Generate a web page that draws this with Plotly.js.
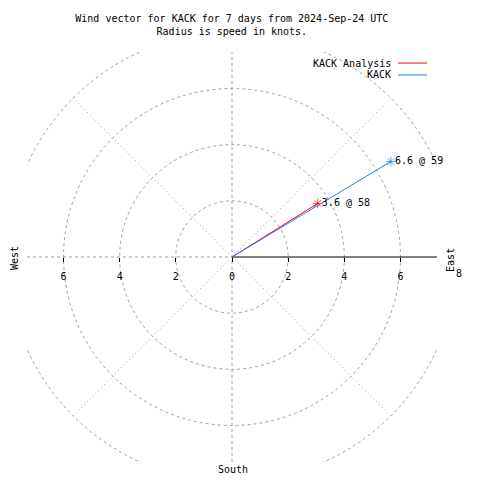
<!DOCTYPE html>
<html>
<head>
<meta charset="utf-8">
<script src="https://cdn.plot.ly/plotly-3.0.1.min.js"></script>
<style>html,body{margin:0;padding:0;background:#fff;}#chart{width:480px;height:480px;}</style>
</head>
<body>
<div id="chart"></div>
<script>
// ---- data ----
const stations = ['KACK Analysis', 'KACK'];
const speeds = [3.6, 6.6];        // knots
const directions = [58, 59];      // degrees (compass)
const tickValues = [-6, -4, -2, 0, 2, 4, 6];
const tickLabels = ['6', '4', '2', '0', '2', '4', '6'];
const outerTickLabel = '8';
const ringRadii = [2, 4, 6, 8];
const compassLabels = ['West', 'East', 'South'];
const titleLines = ['Wind vector for KACK for 7 days from 2024-Sep-24 UTC', 'Radius is speed in knots.'];

const FONT = 'DejaVu Sans Mono, Liberation Mono, monospace';
const GRID = '#a0a0a0';
const colors = ['#ff0000', '#1e80f0'];
const R = 7.3;
const txt = {family: FONT, size: 10, color: '#000'};

const traces = [];
// invisible cartesian anchor trace so the cartesian axes render
traces.push({type: 'scatter', x: [0], y: [0], mode: 'markers', marker: {size: 0, opacity: 0}, showlegend: false, hoverinfo: 'skip'});
stations.forEach((name, i) => {
  traces.push({
    type: 'scatterpolar', subplot: 'polar', name: name,
    r: [0, speeds[i]], theta: [directions[i], directions[i]],
    mode: 'lines+markers',
    line: {color: colors[i], width: 1},
    marker: {symbol: 'asterisk-open', size: [0, 8], color: colors[i], line: {color: colors[i], width: 1}},
    showlegend: false, hoverinfo: 'skip'
  });
});
stations.forEach((name, i) => {
  traces.push({
    type: 'scatterpolar', subplot: 'polar', name: name + ' label',
    r: [speeds[i]], theta: [directions[i]],
    mode: 'markers+text',
    marker: {size: 5, opacity: 0},
    text: [speeds[i].toFixed(1) + ' @ ' + directions[i]],
    textposition: 'middle right',
    textfont: txt,
    showlegend: false, hoverinfo: 'skip'
  });
});

const shapes = [];
ringRadii.forEach(r => shapes.push({type: 'circle', xref: 'x', yref: 'y', x0: -r, x1: r, y0: -r, y1: r,
  line: {color: GRID, width: 1, dash: '3px,3px'}, layer: 'below'}));
const d = 8 / Math.SQRT2;
[[d, d], [-d, d], [-d, -d], [d, -d]].forEach(p => shapes.push({type: 'line', xref: 'x', yref: 'y',
  x0: 0, y0: 0, x1: p[0], y1: p[1], line: {color: GRID, width: 1, dash: '1px,3px'}, layer: 'below'}));
shapes.push({type: 'line', xref: 'x', yref: 'y', x0: 0, x1: 0, y0: -R, y1: R, line: {color: GRID, width: 1, dash: '3px,3px'}, layer: 'below'});
shapes.push({type: 'line', xref: 'x', yref: 'y', x0: -R, x1: 0, y0: 0, y1: 0, line: {color: GRID, width: 1, dash: '3px,3px'}, layer: 'below'});
shapes.push({type: 'line', xref: 'x', yref: 'y', x0: 0, x1: R, y0: 0, y1: 0, line: {color: '#000', width: 1}, layer: 'below'});

// legend (text left, line right)
const legY = [0.973, 0.944];
const annotations = [];
stations.forEach((name, i) => {
  annotations.push({xref: 'paper', yref: 'paper', x: 0.893, y: legY[i], text: name, showarrow: false,
    xanchor: 'right', yanchor: 'middle', font: txt});
  shapes.push({type: 'line', xref: 'paper', yref: 'paper', x0: 0.905, x1: 0.976, y0: legY[i], y1: legY[i],
    line: {color: colors[i], width: 1}});
});
annotations.push({xref: 'paper', yref: 'paper', x: -0.029, y: 0.4976, text: compassLabels[0], textangle: -90, showarrow: false,
  xanchor: 'center', yanchor: 'middle', font: txt});
annotations.push({xref: 'paper', yref: 'paper', x: 1.034, y: 0.4927, text: compassLabels[1], textangle: -90, showarrow: false,
  xanchor: 'center', yanchor: 'middle', font: txt});
annotations.push({xref: 'paper', yref: 'paper', x: 0.502, y: -0.0195, text: compassLabels[2], showarrow: false,
  xanchor: 'center', yanchor: 'middle', font: txt});
annotations.push({xref: 'paper', yref: 'paper', x: 1.053, y: 0.46, text: outerTickLabel, showarrow: false,
  xanchor: 'center', yanchor: 'middle', font: txt});

const layout = {
  width: 480, height: 480,
  margin: {l: 27, r: 43, t: 52, b: 18, pad: 0},
  paper_bgcolor: '#fff', plot_bgcolor: 'rgba(0,0,0,0)',
  title: {text: titleLines.join('<br>'), x: 0.483, xanchor: 'center', y: 1 - 22 / 480, yanchor: 'top',
    font: txt},
  font: txt,
  showlegend: false,
  hovermode: false,
  xaxis: {range: [-R, R], anchor: 'free', position: 0.5, showgrid: false, zeroline: false, showline: false,
    tickmode: 'array', tickvals: tickValues, ticktext: tickLabels, ticks: 'outside', ticklen: 4, tickwidth: 1,
    tickcolor: '#000', ticklabelstandoff: 6, tickfont: txt, fixedrange: true},
  yaxis: {range: [-R, R], showgrid: false, zeroline: false, showline: false, showticklabels: false, ticks: '', fixedrange: true},
  polar: {
    domain: {x: [0, 1], y: [0, 1]},
    bgcolor: 'rgba(0,0,0,0)',
    radialaxis: {range: [0, R], showgrid: false, showline: false, showticklabels: false, ticks: ''},
    angularaxis: {direction: 'clockwise', rotation: 90, showgrid: false, showline: false, showticklabels: false, ticks: ''}
  },
  shapes: shapes,
  annotations: annotations
};

Plotly.newPlot('chart', traces, layout, {displayModeBar: false, staticPlot: true});
</script>
</body>
</html>
